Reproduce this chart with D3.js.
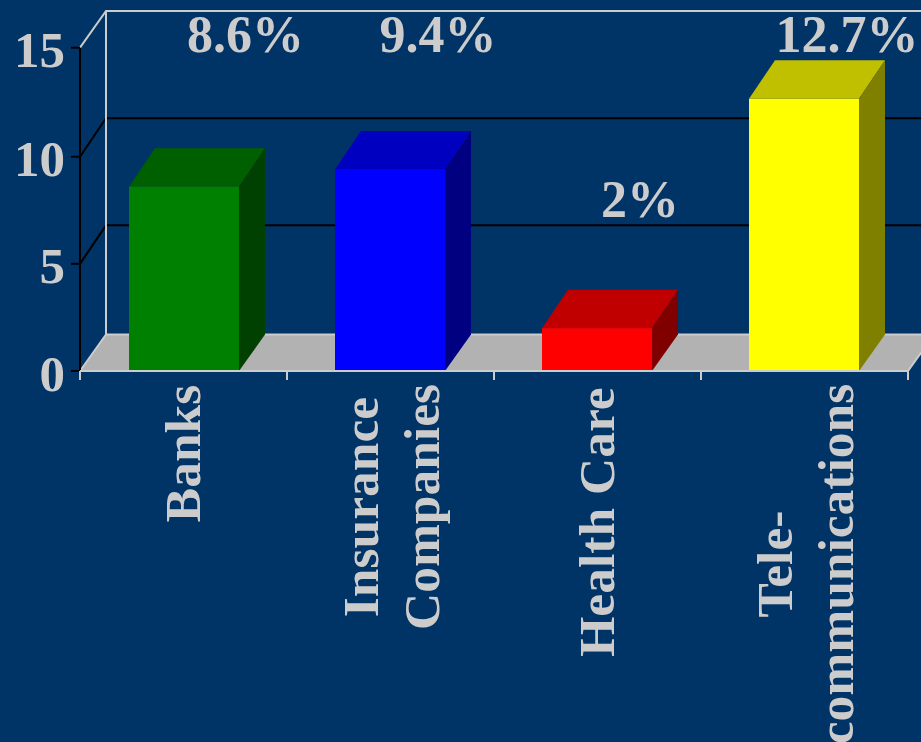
<!DOCTYPE html>
<html>
<head>
<meta charset="utf-8">
<script src="https://cdn.jsdelivr.net/npm/d3@7"></script>
<style>
html, body { margin: 0; padding: 0; background: #003366; overflow: hidden; }
svg { display: block; }
text { font-family: "Liberation Serif", serif; font-weight: bold; fill: #cccccc; }
</style>
</head>
<body>
<div id="chart"></div>
<script>
// Rates of growth by sector
const categories = ["Banks", "Insurance Companies", "Health Care", "Tele-communications"];
const categoryLines = [["Banks"], ["Insurance", "Companies"], ["Health Care"], ["Tele-", "communications"]];
const values = [8.6, 9.4, 2, 12.7];
const valueLabels = ["8.6%", "9.4%", "2%", "12.7%"];
const frontColors = ["#008000", "#0000ff", "#ff0000", "#ffff00"];
const topColors = ["#006000", "#0000c0", "#c00000", "#c0c000"];
const sideColors = ["#004000", "#000080", "#800000", "#808000"];
const yTicks = [0, 5, 10, 15];

const width = 921, height = 742;
const depth = { x: 26, y: -38.5, floor: -36.5 };
const plot = { left: 80, right: 908, top: 49.5, bottom: 371 };

const svg = d3.select("#chart").append("svg").attr("width", width).attr("height", height);

const x = d3.scaleBand().domain(categories).range([plot.left, plot.right])
  .paddingInner(0.4686).paddingOuter(0.2367);
// Snap bar edges to whole pixels so the faces stay crisp
const barLeft = d => Math.round(x(d) - 0.2);
const barWidth = Math.round(x.bandwidth());
const y = d3.scaleLinear().domain([0, 15]).range([plot.bottom, plot.top]);
// The top tick of the value axis sits a little above its even spacing
const yAxisPos = d3.scaleLinear().domain([0, 10, 15]).range([plot.bottom, 156.7, 47.7]);
const tickEdges = d3.range(categories.length + 1).map(i => plot.left + i * (plot.right - plot.left) / categories.length);
const backY = t => y(t) + depth.y;
const floorBack = plot.bottom + depth.floor;

// Floor of the 3D box
const path = d3.line();
svg.append("path")
  .attr("d", path([
    [plot.left, plot.bottom], [plot.left + depth.x, floorBack],
    [plot.right + depth.x, floorBack], [plot.right, plot.bottom]
  ]) + "Z")
  .attr("fill", "#b2b2b2");

// Gridlines on the side and back walls
const grid = svg.append("g").attr("fill", "none").attr("stroke-width", 2);
yTicks.filter(t => t > 0).forEach(t => {
  grid.append("path")
    .attr("stroke", t === 15 ? "#cccccc" : "#000000")
    .attr("d", path([
      [plot.left, yAxisPos(t)], [plot.left + depth.x, backY(t)], [width + 10, backY(t)]
    ]));
});

// Back wall edge and floor edges
const edges = svg.append("g").attr("fill", "none").attr("stroke", "#cccccc").attr("stroke-width", 2);
edges.append("path").attr("d", path([
  [plot.left + depth.x, backY(15)], [plot.left + depth.x, floorBack], [width + 10, floorBack]
]));
edges.append("path").attr("d", path([
  [plot.left + depth.x, floorBack], [plot.left, plot.bottom]
]));
edges.append("path").attr("d", path([
  [plot.right, plot.bottom], [plot.right + depth.x, floorBack]
]));

// Bars: top, side and front faces
const bars = svg.append("g").selectAll("g").data(categories).join("g");
bars.append("path").attr("fill", (d, i) => topColors[i]).attr("d", (d, i) => {
  const l = barLeft(d), r = l + barWidth, t = y(values[i]);
  return path([[l, t], [l + depth.x, t + depth.y], [r + depth.x, t + depth.y], [r, t]]) + "Z";
});
bars.append("path").attr("fill", (d, i) => sideColors[i]).attr("d", (d, i) => {
  const r = barLeft(d) + barWidth, t = y(values[i]), b = y(0);
  return path([[r, t], [r + depth.x, t + depth.y], [r + depth.x, b + depth.floor], [r, b]]) + "Z";
});
bars.append("rect").attr("fill", (d, i) => frontColors[i])
  .attr("x", d => barLeft(d)).attr("width", barWidth)
  .attr("y", (d, i) => y(values[i])).attr("height", (d, i) => y(0) - y(values[i]));

// Value axis
svg.append("line").attr("x1", plot.left).attr("x2", plot.left)
  .attr("y1", yAxisPos(15)).attr("y2", yAxisPos(0)).attr("stroke", "#000000").attr("stroke-width", 2);
const yAxis = svg.append("g");
yAxis.selectAll("line").data(yTicks).join("line")
  .attr("x1", plot.left - 9).attr("x2", plot.left)
  .attr("y1", d => yAxisPos(d)).attr("y2", d => yAxisPos(d))
  .attr("stroke", "#000000").attr("stroke-width", 2);
yAxis.selectAll("text").data(yTicks).join("text")
  .attr("x", 65).attr("y", d => yAxisPos(d) + 19.5)
  .attr("text-anchor", "end").attr("font-size", 51).text(d => d);

// Category axis
svg.append("line").attr("x1", plot.left).attr("x2", plot.right)
  .attr("y1", plot.bottom).attr("y2", plot.bottom).attr("stroke", "#cccccc").attr("stroke-width", 2);
svg.append("g").selectAll("line").data(tickEdges).join("line")
  .attr("x1", d => d).attr("x2", d => d)
  .attr("y1", plot.bottom).attr("y2", plot.bottom + 9)
  .attr("stroke", "#cccccc").attr("stroke-width", 2);

// Rotated category labels, each block of lines centred along the text direction
const labelBaselines = [[200], [378, 439], [614], [792, 853]];
const labelCentres = [453.5, 507, 522, 564];
categoryLines.forEach((lines, i) => {
  lines.forEach((line, j) => {
    svg.append("text")
      .attr("transform", `translate(${labelBaselines[i][j]},${labelCentres[i]}) rotate(-90)`)
      .attr("text-anchor", "middle").attr("font-size", 51.5).text(line);
  });
});

// Value labels over the bars
const labelPos = [[245.5, 52], [438, 52], [640, 217], [847, 52]];
svg.append("g").selectAll("text").data(valueLabels).join("text")
  .attr("x", (d, i) => labelPos[i][0]).attr("y", (d, i) => labelPos[i][1])
  .attr("text-anchor", "middle").attr("font-size", 52).text(d => d);
</script>
</body>
</html>
